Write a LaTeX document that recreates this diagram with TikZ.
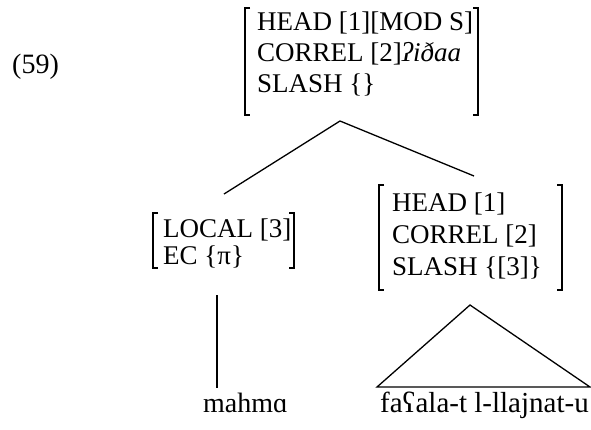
\documentclass[tikz,border=0pt]{standalone}
\usepackage{fontspec}
\setmainfont{Liberation Serif}
\newfontfamily\avmfont{Liberation Serif}
\newcommand{\avmsize}[1]{\avmfont\fontsize{27}{#1}\selectfont}
\begin{document}
\begin{tikzpicture}[x=1pt,y=-1pt,
  avm/.style={align=left, inner sep=0pt, anchor=north west},
  bracket/.style={line width=1.5pt},
  branch/.style={line width=1.3pt},
  word/.style={font=\fontsize{28}{32}\selectfont, inner sep=0pt, anchor=base west}]
\useasboundingbox (0,0) rectangle (591,429);

% example number
\node[word] (num) at (12,73) {(59)};

% mother AVM
\node[avm, font=\avmsize{31}] (top) at (257,12)
  {HEAD [1][MOD S]\\ CORREL [2]\textit{ʔiðaa}\\ SLASH \{\}};
\draw[bracket] (250,8) -- (245,8) -- (245,115) -- (250,115);
\draw[bracket] (473,8) -- (478,8) -- (478,115) -- (473,115);

% left daughter AVM
\node[avm, font=\avmsize{27}] (left) at (163,219)
  {LOCAL [3]\\ EC \{π\}};
\draw[bracket] (158,213) -- (153,213) -- (153,268) -- (158,268);
\draw[bracket] (289,213) -- (294,213) -- (294,268) -- (289,268);

% right daughter AVM
\node[avm, font=\avmsize{32}] (right) at (392,193)
  {HEAD [1]\\ CORREL [2]\\ SLASH \{[3]\}};
\draw[bracket] (384,185) -- (379,185) -- (379,290) -- (384,290);
\draw[bracket] (557,185) -- (562,185) -- (562,290) -- (557,290);

% tree branches
\coordinate (apex) at (340,121);
\coordinate (leftend) at (224,194);
\coordinate (rightend) at (474,176);
\draw[branch] (leftend) -- (apex) -- (rightend);

% terminal strings
\node[word] (mahma) at (203,412) {mahmɑ};
\node[word, font=\fontsize{29}{32}\selectfont] (fa) at (380,412) {faʕala-t l-llajnat-u};

% unary branch and triangle
\coordinate (lstem) at (217,295);
\coordinate (lfoot) at (217,388);
\draw[branch] (lstem) -- (lfoot);
\coordinate (tapex) at (470,305);
\coordinate (tl) at (377,387);
\coordinate (tr) at (590,387);
\draw[branch, line join=miter] (tl) -- (tapex) -- (tr) -- cycle;
\end{tikzpicture}
\end{document}
